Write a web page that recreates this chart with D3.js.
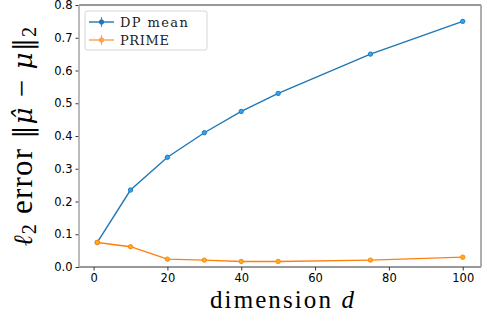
<!DOCTYPE html>
<html><head><meta charset="utf-8">
<script src="https://cdn.jsdelivr.net/npm/d3@7"></script>
<style>body{margin:0;background:#fff}svg{display:block}</style>
</head><body>
<svg id="c" width="484" height="312"></svg>
<script>
const dims = [1, 10, 20, 30, 40, 50, 75, 100];
const dpMean = [0.075, 0.235, 0.335, 0.41, 0.475, 0.53, 0.65, 0.75];
const prime = [0.075, 0.062, 0.024, 0.021, 0.017, 0.017, 0.021, 0.03];
const seriesNames = ["DP mean", "PRIME"];
const seriesColors = ["#1f77b4", "#ff7f0e"];
const xTicks = [0, 20, 40, 60, 80, 100];
const yTicks = [0.0, 0.1, 0.2, 0.3, 0.4, 0.5, 0.6, 0.7, 0.8];

const svg = d3.select("#c");
const m = {l: 79, r: 481, t: 5, b: 267};
const x = d3.scaleLinear().domain([-3.95, 104.95]).range([m.l, m.r]);
const y = d3.scaleLinear().domain([0, 0.8]).range([m.b, m.t]);

function spaceFit(sel, target) {
  const node = sel.node();
  const w = node.getComputedTextLength();
  const n = node.textContent.length;
  sel.attr("letter-spacing", Math.max(0, (target - w) / n));
}
function fit(sel, target, base) {
  const w = sel.node().getComputedTextLength();
  sel.attr("font-size", base * target / w);
}

// axes
const xa = svg.append("g").attr("transform", `translate(0,${m.b})`)
  .call(d3.axisBottom(x).tickValues(xTicks).tickSize(3.5).tickPadding(3).tickFormat(d3.format("d")));
const ya = svg.append("g").attr("transform", `translate(${m.l},0)`)
  .call(d3.axisLeft(y).tickValues(yTicks).tickSize(3.5).tickPadding(3).tickFormat(d3.format(".1f")));
[xa, ya].forEach(g => {
  g.select(".domain").remove();
  g.selectAll("text").attr("font-family", "DejaVu Sans").attr("font-size", 11.5).attr("fill", "#000");
  g.selectAll("line").attr("stroke", "#000").attr("stroke-width", 0.8);
});

// spines
svg.append("line").attr("x1", m.l).attr("x2", m.r).attr("y1", m.t).attr("y2", m.t).attr("stroke", "#333").attr("stroke-width", 1);
svg.append("line").attr("x1", m.l).attr("x2", m.r).attr("y1", m.b).attr("y2", m.b).attr("stroke", "#333").attr("stroke-width", 1);
svg.append("line").attr("x1", m.l).attr("x2", m.l).attr("y1", m.t).attr("y2", m.b).attr("stroke", "#aaa").attr("stroke-width", 1.6);
svg.append("line").attr("x1", m.r).attr("x2", m.r).attr("y1", m.t).attr("y2", m.b).attr("stroke", "#999").attr("stroke-width", 1.6);

const line = d3.line().x(d => x(d[0])).y(d => y(d[1]));
const data = [dpMean, prime];
data.forEach((vals, i) => {
  const pts = dims.map((d, j) => [d, vals[j]]);
  svg.append("path").datum(pts).attr("d", line).attr("fill", "none")
    .attr("stroke", seriesColors[i]).attr("stroke-width", 1.4);
  svg.selectAll(null).data(pts).enter().append("circle")
    .attr("cx", d => x(d[0])).attr("cy", d => y(d[1])).attr("r", 2.2)
    .attr("fill", d3.color(seriesColors[i]).brighter(0.9)).attr("stroke", seriesColors[i]).attr("stroke-width", 0.9);
});

// legend
const lg = svg.append("g");
lg.append("rect").attr("x", 85).attr("y", 11).attr("width", 122).attr("height", 39).attr("rx", 2)
  .attr("fill", "#fff").attr("fill-opacity", 0.8).attr("stroke", "#ccc").attr("stroke-width", 0.8);
seriesNames.forEach((n, i) => {
  const yy = 22 + i * 18;
  const c = i === 0 ? seriesColors[0] : "#ffa04d";
  lg.append("line").attr("x1", 89).attr("x2", 114).attr("y1", yy).attr("y2", yy).attr("stroke", c).attr("stroke-width", 1.4);
  lg.append("line").attr("x1", 101.5).attr("x2", 101.5).attr("y1", yy - 5).attr("y2", yy + 5).attr("stroke", c).attr("stroke-width", 1.2).attr("opacity", 0.8);
  lg.append("circle").attr("cx", 101.5).attr("cy", yy).attr("r", 2.2).attr("fill", c).attr("stroke", c);
  lg.append("text").attr("x", 120).attr("y", yy + 4.5).text(n)
    .attr("font-family", "DejaVu Serif, serif").attr("font-size", 13).attr("fill", "#222")
    .attr("letter-spacing", i === 0 ? 1.4 : 0.6);
});

// axis labels
const xl = svg.append("text").attr("x", 283).attr("y", 308).attr("text-anchor", "middle")
  .attr("font-family", "Liberation Serif, serif").attr("font-size", 25).attr("fill", "#000")
  .html('dimension <tspan font-style="italic">d</tspan>');
spaceFit(xl, 146);
const yl = svg.append("text").attr("transform", "translate(32,136) rotate(-90)").attr("text-anchor", "middle")
  .attr("font-family", "Liberation Serif, serif").attr("font-size", 20).attr("letter-spacing", 1.2).attr("fill", "#000");
yl.append("tspan").attr("font-style", "italic").attr("font-family", "DejaVu Serif").attr("font-size", "0.85em").text("ℓ");
yl.append("tspan").attr("font-size", "0.65em").attr("dy", "0.22em").text("2");
yl.append("tspan").attr("dy", "-0.15em").text(" error ");
yl.append("tspan").attr("font-family", "DejaVu Serif").attr("font-size", "0.85em").text("‖");
yl.append("tspan").attr("font-style", "italic").attr("font-family", "DejaVu Serif").attr("font-size", "0.85em").text("μ̂");
yl.append("tspan").text(" − ");
yl.append("tspan").attr("font-style", "italic").attr("font-family", "DejaVu Serif").attr("font-size", "0.85em").text("μ");
yl.append("tspan").attr("font-family", "DejaVu Serif").attr("font-size", "0.85em").text("‖");
yl.append("tspan").attr("font-size", "0.65em").attr("dy", "0.22em").text("2");
fit(yl, 232, 20);
</script>
</body></html>
